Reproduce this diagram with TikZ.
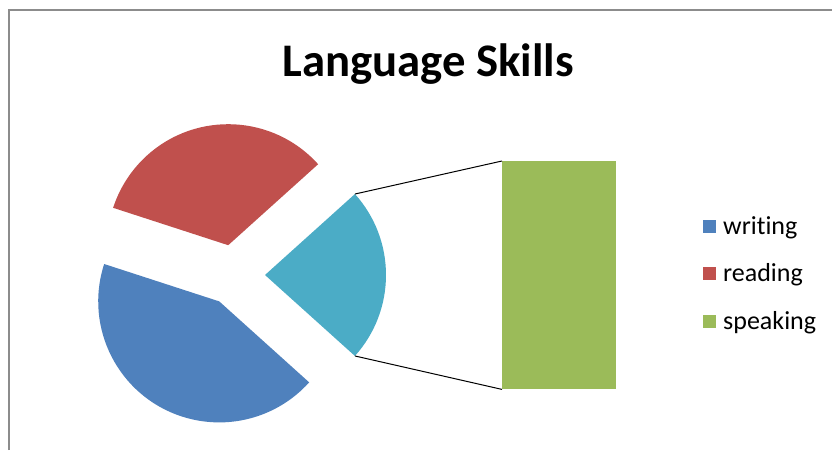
\documentclass[tikz,border=0pt]{standalone}
\usepackage{fontspec}
\setmainfont[Ligatures=NoCommon]{Carlito}
\usetikzlibrary{calc}
\definecolor{cblue}{HTML}{4F81BD}
\definecolor{cred}{HTML}{C0504D}
\definecolor{ccyan}{HTML}{4BACC6}
\definecolor{cgreen}{HTML}{9BBB59}
\definecolor{cframe}{HTML}{8C8C8C}
\tikzset{
  legsq/.style={minimum width=13pt,minimum height=13pt,inner sep=0pt},
  legtxt/.style={anchor=base west,inner sep=0pt,font=\fontsize{26}{30}\selectfont},
  zoomline/.style={draw=black,line width=1pt}
}
\begin{document}
\begin{tikzpicture}[x=1pt,y=1pt]
\useasboundingbox (0,0) rectangle (832,450);
\fill[white] (0,0) rectangle (832,450);
% frame
\draw[cframe,line width=2pt] (9,0) -- (9,440) -- (833,440);
% title
\node[anchor=base,inner sep=0pt,font=\fontsize{46.7}{56}\selectfont\bfseries] (title) at (428,373.3) {Language Skills};
% pie slices (exploded)
\def\R{121}
\coordinate (cs) at (265,175);
\coordinate (cr) at (228.2,204.8);
\coordinate (cw) at (219.25,148.6);
\fill[cred] (cr) -- ++(42:\R) arc[start angle=42,end angle=162,radius=\R] -- cycle;
\fill[cblue] (cw) -- ++(162:\R) arc[start angle=162,end angle=318,radius=\R] -- cycle;
\fill[ccyan] (cs) -- ++(-42:\R) arc[start angle=-42,end angle=42,radius=\R] -- cycle;
\coordinate (sp1) at ($(cs)+(42:\R)$);
\coordinate (sp2) at ($(cs)+(-42:\R)$);
% bar
\node[fill=cgreen,minimum width=114pt,minimum height=228pt,inner sep=0pt,anchor=north west] (bar) at (502,289) {};
\draw[zoomline] (sp1) -- (bar.north west);
\draw[zoomline] (sp2) -- (bar.south west);
% legend
\node[legsq,fill=cblue] (lw) at (709,223) {};
\node[legsq,fill=cred] (lr) at (709,176) {};
\node[legsq,fill=cgreen] (ls) at (709,128.5) {};
\node[legtxt] (tw) at (723,215) {writing};
\node[legtxt] (tr) at (723,168) {reading};
\node[legtxt] (ts) at (723,120.5) {speaking};
\end{tikzpicture}
\end{document}
